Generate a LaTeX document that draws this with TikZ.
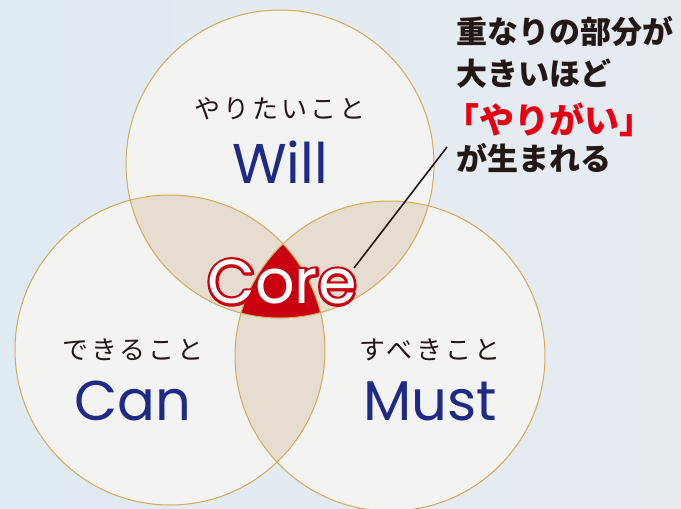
\documentclass[tikz,border=0pt]{standalone}
\usepackage{fontspec}
\setmainfont{Poppins}
\newfontfamily\jpfont{Noto Sans CJK JP}
\usetikzlibrary{positioning,calc}

\definecolor{navyink}{HTML}{1F2A86}
\definecolor{inkblack}{HTML}{231815}
\definecolor{ringgold}{HTML}{D2AA58}
\definecolor{discfill}{HTML}{F3F3F2}
\definecolor{lapfill}{HTML}{E6DDD0}
\definecolor{corered}{HTML}{C8000F}
\definecolor{notered}{HTML}{E50012}
\definecolor{bgblue}{HTML}{E0EAF3}
\definecolor{bgwhite}{HTML}{F6F8FB}
\definecolor{bggray}{HTML}{E6EBF0}

% red rim drawn under the white letters (text render mode 2)
\newcommand{\rimtext}[1]{\special{pdf:literal direct 2 Tr 5.4 w 1 j}#1\special{pdf:literal direct 0 Tr}}

\begin{document}
\begin{tikzpicture}[
    x=1pt, y=-1pt,
    node distance=8pt,
    ring/.style={draw=ringgold, line width=1pt},
    word/.style={font=\fontsize{56}{56}\selectfont, text=navyink, inner sep=0pt},
    jplabel/.style={font=\jpfont\fontsize{26}{26}\selectfont\addfontfeature{LetterSpace=12}, text=inkblack, inner sep=0pt},
    note/.style={font=\jpfont\bfseries\fontsize{31}{31}\selectfont, text=inkblack, anchor=west, inner sep=0pt},
    coreword/.style={font=\fontsize{62}{62}\selectfont, text=white, inner sep=0pt}
]
    % background
    \useasboundingbox (0,0) rectangle (681,509);
    \shade[left color=bgblue, middle color=bgwhite, right color=bggray] (0,0) rectangle (681,509);

    % circles
    \coordinate (cw) at (280,164);
    \coordinate (cc) at (170,350);
    \coordinate (cm) at (390,356);
    \fill[discfill] (cw) circle[radius=154pt];
    \fill[discfill] (cc) circle[radius=155pt];
    \fill[discfill] (cm) circle[radius=155pt];

    % overlaps
    \begin{scope}
        \clip (cw) circle[radius=154pt];
        \fill[lapfill] (cc) circle[radius=155pt];
        \fill[lapfill] (cm) circle[radius=155pt];
    \end{scope}
    \begin{scope}
        \clip (cc) circle[radius=155pt];
        \fill[lapfill] (cm) circle[radius=155pt];
    \end{scope}
    \begin{scope}
        \clip (cw) circle[radius=154pt];
        \clip (cc) circle[radius=155pt];
        \fill[corered] (cm) circle[radius=155pt];
    \end{scope}

    \draw[ring] (cw) circle[radius=154pt];
    \draw[ring] (cc) circle[radius=155pt];
    \draw[ring] (cm) circle[radius=155pt];

    % labels
    \node[word] (will) at (280,162) {Will};
    \node[jplabel, above=20pt of will] (willjp) {やりたいこと};
    \node[word] (can) at (133,401) {Can};
    \node[jplabel, above=20pt of can] (canjp) {できること};
    \node[word] (must) at (430,401) {Must};
    \node[jplabel, above=20pt of must] (mustjp) {すべきこと};

    \node[coreword, text=corered] (corerim) at (282,282) {\rimtext{Core}};
    \node[coreword] (core) at (282,282) {Core};

    % leader + note
    \coordinate (leadA) at (354,268);
    \coordinate (leadB) at (447,147);
    \draw[inkblack, line width=1.6pt] (leadA) -- (leadB);

    \node[note] (note1) at (456,32) {重なりの部分が};
    \node[note, below left=11pt and 0pt of note1.south west, anchor=north west] (note2) {大きいほど};
    \node[note, text=notered, font=\jpfont\bfseries\fontsize{35}{35}\selectfont] (note3) at (444,120) {「やりがい」};
    \node[note] (note4) at (456,158) {が生まれる};
\end{tikzpicture}
\end{document}
